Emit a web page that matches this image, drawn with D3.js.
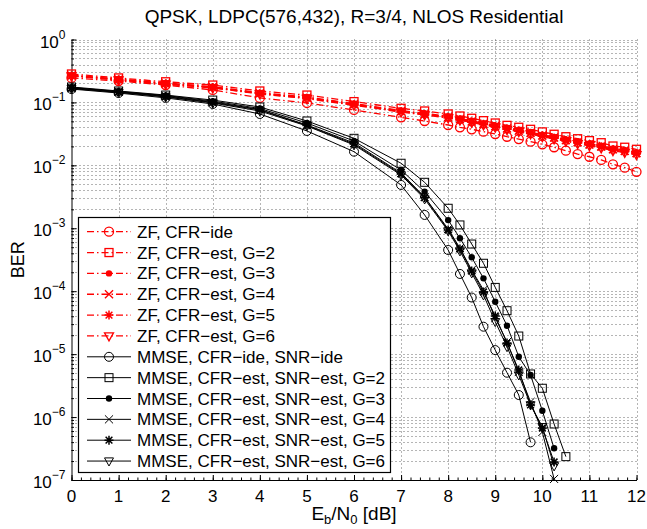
<!DOCTYPE html>
<html>
<head>
<meta charset="utf-8">
<script src="https://cdn.jsdelivr.net/npm/d3@7"></script>
<style>
  body { margin: 0; background: #fff; }
  svg text { font-family: "Liberation Sans", Arial, Helvetica, sans-serif; }
</style>
</head>
<body>
<script>
// ---- data ----
const xZF = [0, 1, 2, 3, 4, 5, 6, 7, 7.5, 8, 8.25, 8.5, 8.75, 9, 9.25, 9.5, 9.75, 10, 10.25, 10.5, 10.75, 11, 11.25, 11.5, 11.75, 12];

const zfIde = [0.245, 0.219, 0.189, 0.158, 0.118, 0.098, 0.0759, 0.0580, 0.0507, 0.0438, 0.0402, 0.0374, 0.0343, 0.0315, 0.0285, 0.0262, 0.0238, 0.0216, 0.0194, 0.0171, 0.0151, 0.0137, 0.0122, 0.0104, 0.0092, 0.0079];
const zfG2 = [0.283, 0.245, 0.213, 0.189, 0.152, 0.131, 0.103, 0.0807, 0.0731, 0.0655, 0.0609, 0.0560, 0.0513, 0.0471, 0.0432, 0.0403, 0.0374, 0.0340, 0.0312, 0.0285, 0.0265, 0.0247, 0.0229, 0.0203, 0.0194, 0.0180];
const zfG3 = [0.272, 0.236, 0.204, 0.178, 0.143, 0.122, 0.096, 0.0745, 0.0672, 0.0601, 0.0556, 0.0512, 0.0468, 0.0430, 0.0396, 0.0366, 0.0338, 0.0306, 0.0284, 0.0259, 0.0240, 0.0222, 0.0206, 0.0186, 0.0175, 0.0162];
const zfG4 = [0.268, 0.232, 0.200, 0.175, 0.140, 0.119, 0.094, 0.0728, 0.0656, 0.0588, 0.0543, 0.0500, 0.0458, 0.0421, 0.0386, 0.0357, 0.0330, 0.0298, 0.0277, 0.0252, 0.0233, 0.0216, 0.0200, 0.0181, 0.0170, 0.0157];
const zfG5 = [0.265, 0.229, 0.198, 0.172, 0.138, 0.117, 0.092, 0.0716, 0.0644, 0.0577, 0.0533, 0.0490, 0.0449, 0.0412, 0.0378, 0.0349, 0.0322, 0.0291, 0.0270, 0.0246, 0.0227, 0.0210, 0.0195, 0.0176, 0.0165, 0.0152];
const zfG6 = [0.262, 0.226, 0.195, 0.170, 0.136, 0.115, 0.090, 0.0702, 0.0632, 0.0566, 0.0522, 0.0480, 0.0440, 0.0403, 0.0370, 0.0341, 0.0315, 0.0284, 0.0263, 0.0240, 0.0221, 0.0205, 0.0189, 0.0171, 0.0160, 0.0147];

const xMMSE = [0, 1, 2, 3, 4, 5, 6, 7, 7.5, 8, 8.25, 8.5, 8.75, 9, 9.25, 9.5, 9.75, 10, 10.25, 10.5];

const mmseIde = [0.163, 0.141, 0.118, 0.0944, 0.0655, 0.0352, 0.0165, 0.00488, 0.00163, 4.52e-4, 1.88e-4, 7.94e-5, 2.73e-5, 1.16e-5, 5.07e-6, 2.24e-6, 3.97e-7];
const mmseG2 = [0.176, 0.152, 0.131, 0.109, 0.0846, 0.0507, 0.0269, 0.0108, 0.00538, 0.00208, 0.00113, 5.62e-4, 2.78e-4, 1.15e-4, 4.90e-5, 1.94e-5, 4.84e-6, 2.87e-6, 7.76e-7, 2.35e-7];
const mmseG3 = [0.173, 0.149, 0.129, 0.105, 0.0801, 0.0471, 0.0244, 0.00844, 0.00381, 0.00135, 6.93e-4, 3.46e-4, 1.60e-4, 6.81e-5, 2.83e-5, 9.10e-6, 4.66e-6, 1.26e-6, 3.19e-7];
const mmseG4 = [0.170, 0.147, 0.127, 0.102, 0.0772, 0.0438, 0.0227, 0.00756, 0.00314, 9.75e-4, 4.86e-4, 2.17e-4, 1.05e-4, 3.75e-5, 1.56e-5, 5.20e-6, 1.74e-6, 5.79e-7, 1.04e-7];
const mmseG5 = [0.170, 0.147, 0.124, 0.0998, 0.0759, 0.0430, 0.0218, 0.00729, 0.00308, 9.39e-4, 4.69e-4, 2.09e-4, 9.72e-5, 4.04e-5, 1.50e-5, 5.60e-6, 1.56e-6, 6.70e-7, 1.93e-7];
const mmseG6 = [0.166, 0.144, 0.122, 0.098, 0.0731, 0.0422, 0.0211, 0.00703, 0.00292, 9.06e-4, 4.36e-4, 1.95e-4, 8.71e-5, 3.28e-5, 1.31e-5, 4.66e-6, 1.56e-6, 7.03e-7, 1.67e-7];

const legendLabels = [
  "ZF, CFR\u2212ide", "ZF, CFR\u2212est, G=2", "ZF, CFR\u2212est, G=3",
  "ZF, CFR\u2212est, G=4", "ZF, CFR\u2212est, G=5", "ZF, CFR\u2212est, G=6",
  "MMSE, CFR\u2212ide, SNR\u2212ide", "MMSE, CFR\u2212est, SNR\u2212est, G=2",
  "MMSE, CFR\u2212est, SNR\u2212est, G=3", "MMSE, CFR\u2212est, SNR\u2212est, G=4",
  "MMSE, CFR\u2212est, SNR\u2212est, G=5", "MMSE, CFR\u2212est, SNR\u2212est, G=6"
];
const markers = ["circle", "square", "dot", "x", "star", "tri"];
const xTicks = [0, 1, 2, 3, 4, 5, 6, 7, 8, 9, 10, 11, 12];
const yExponents = [0, -1, -2, -3, -4, -5, -6, -7];

const series = [
  {x: xZF, y: zfIde}, {x: xZF, y: zfG2}, {x: xZF, y: zfG3},
  {x: xZF, y: zfG4}, {x: xZF, y: zfG5}, {x: xZF, y: zfG6},
  {x: xMMSE, y: mmseIde}, {x: xMMSE, y: mmseG2}, {x: xMMSE, y: mmseG3},
  {x: xMMSE, y: mmseG4}, {x: xMMSE, y: mmseG5}, {x: xMMSE, y: mmseG6}
].map((s, i) => ({
  label: legendLabels[i],
  marker: markers[i % 6],
  zf: i < 6,
  points: s.y.map((v, j) => ({x: s.x[j], y: v}))
}));

// ---- layout ----
const width = 647, height = 529;
const margin = {left: 71.5, right: 10.5, top: 39.5, bottom: 49};

const x = d3.scaleLinear().domain([0, 12]).range([margin.left, width - margin.right]);
const y = d3.scaleLog().domain([1e-7, 1]).range([height - margin.bottom, margin.top]);

const svg = d3.select("body").append("svg")
  .attr("width", width)
  .attr("height", height);

// grid
const minorY = [];
yExponents.forEach(e => {
  if (e === 0) return;
  for (let k = 1; k <= 9; k++) minorY.push(k * Math.pow(10, e));
});
minorY.push(1);

svg.append("g").selectAll("line")
  .data(minorY)
  .join("line")
    .attr("x1", x(0)).attr("x2", x(12))
    .attr("y1", d => Math.round(y(d)) + 0.5).attr("y2", d => Math.round(y(d)) + 0.5)
    .attr("stroke", "#444")
    .attr("stroke-width", 0.8)
    .attr("stroke-dasharray", "1 3");

svg.append("g").selectAll("line")
  .data(xTicks.slice(1))
  .join("line")
    .attr("x1", d => Math.round(x(d)) + 0.5).attr("x2", d => Math.round(x(d)) + 0.5)
    .attr("y1", y(1)).attr("y2", y(1e-7))
    .attr("stroke", "#444")
    .attr("stroke-width", 0.8)
    .attr("stroke-dasharray", "1 3");

// axes (ticks inward, no box)
svg.append("g")
  .attr("transform", `translate(0,${y(1e-7)})`)
  .call(d3.axisBottom(x).tickValues(xTicks).tickSize(-5).tickFormat("").tickSizeOuter(0));
svg.append("g")
  .attr("transform", `translate(0,${y(1e-7)})`)
  .call(d3.axisBottom(x).tickValues(d3.range(0, 12.01, 0.2)).tickSize(-2.5).tickFormat("").tickSizeOuter(0))
  .select(".domain").remove();

svg.append("g")
  .attr("transform", `translate(${x(0)},0)`)
  .call(d3.axisLeft(y).tickValues(yExponents.map(e => Math.pow(10, e))).tickSize(-5).tickFormat("").tickSizeOuter(0));
svg.append("g")
  .attr("transform", `translate(${x(0)},0)`)
  .call(d3.axisLeft(y).tickValues(minorY).tickSize(-2.5).tickFormat("").tickSizeOuter(0))
  .select(".domain").remove();

svg.selectAll(".domain, .tick line").attr("stroke", "#000");

// tick labels
svg.append("g").selectAll("text")
  .data(xTicks)
  .join("text")
    .attr("x", d => x(d))
    .attr("y", y(1e-7) + 22)
    .attr("text-anchor", "middle")
    .attr("font-size", 17)
    .text(d => d);

const yl = svg.append("g").selectAll("text")
  .data(yExponents)
  .join("text")
    .attr("x", x(0) - 6)
    .attr("y", d => y(Math.pow(10, d)) + 8)
    .attr("text-anchor", "end")
    .attr("font-size", 17);
yl.append("tspan").text("10");
yl.append("tspan").attr("dy", -9).attr("font-size", 12).text(d => d === 0 ? "0" : "\u2212" + (-d));

// titles
svg.append("text")
  .attr("x", (x(0) + x(12)) / 2)
  .attr("y", 23)
  .attr("text-anchor", "middle")
  .attr("font-size", 19)
  .text("QPSK, LDPC(576,432), R=3/4, NLOS Residential");

const xl = svg.append("text")
  .attr("x", (x(0) + x(12)) / 2)
  .attr("y", 520)
  .attr("text-anchor", "middle")
  .attr("font-size", 19);
xl.append("tspan").text("E");
xl.append("tspan").attr("dy", 4).attr("font-size", 13).text("b");
xl.append("tspan").attr("dy", -4).text("/N");
xl.append("tspan").attr("dy", 4).attr("font-size", 13).text("0");
xl.append("tspan").attr("dy", -4).text(" [dB]");

svg.append("text")
  .attr("transform", `translate(24,${(y(1) + y(1e-7)) / 2}) rotate(-90)`)
  .attr("text-anchor", "middle")
  .attr("font-size", 18)
  .text("BER");

// markers
function drawMarker(g, type, cx, cy, color, sw) {
  const s = 4.5;
  if (type === "circle") {
    g.append("circle").attr("cx", cx).attr("cy", cy).attr("r", s)
      .attr("fill", "none").attr("stroke", color).attr("stroke-width", sw);
  } else if (type === "square") {
    g.append("rect").attr("x", cx - s + 0.5).attr("y", cy - s + 0.5).attr("width", 2 * s - 1).attr("height", 2 * s - 1)
      .attr("fill", "none").attr("stroke", color).attr("stroke-width", sw);
  } else if (type === "dot") {
    g.append("circle").attr("cx", cx).attr("cy", cy).attr("r", 3.2)
      .attr("fill", color).attr("stroke", "none");
  } else if (type === "x") {
    const d = s * 0.9;
    g.append("path").attr("d", `M${cx - d},${cy - d}L${cx + d},${cy + d}M${cx - d},${cy + d}L${cx + d},${cy - d}`)
      .attr("stroke", color).attr("stroke-width", sw).attr("fill", "none");
  } else if (type === "star") {
    const d = s * 0.75;
    g.append("path").attr("d", `M${cx - s},${cy}L${cx + s},${cy}M${cx},${cy - s}L${cx},${cy + s}M${cx - d},${cy - d}L${cx + d},${cy + d}M${cx - d},${cy + d}L${cx + d},${cy - d}`)
      .attr("stroke", color).attr("stroke-width", 1.5).attr("fill", "none");
  } else if (type === "tri") {
    g.append("path").attr("d", `M${cx - s},${cy - s * 0.7}L${cx + s},${cy - s * 0.7}L${cx},${cy + s * 1.1}Z`)
      .attr("stroke", color).attr("stroke-width", sw).attr("fill", "none");
  }
}

const line = d3.line().x(d => x(d.x)).y(d => y(d.y));
const dashZF = "7 3 1.5 3";

const plot = svg.append("g");
series.forEach(s => {
  const color = s.zf ? "#ff0000" : "#000";
  const sw = s.zf ? 1.3 : 1;
  const g = plot.append("g");
  g.append("path")
    .datum(s.points)
    .attr("d", line)
    .attr("fill", "none")
    .attr("stroke", color)
    .attr("stroke-width", sw)
    .attr("stroke-dasharray", s.zf ? dashZF : null);
  s.points.forEach(p => drawMarker(g, s.marker, x(p.x), y(p.y), color, sw));
});

// legend
const lg = svg.append("g");
lg.append("rect")
  .attr("x", 78.5).attr("y", 217.5)
  .attr("width", 312).attr("height", 255)
  .attr("fill", "#fff").attr("stroke", "#000").attr("stroke-width", 1.2);

series.forEach((s, i) => {
  const color = s.zf ? "#ff0000" : "#000";
  const sw = s.zf ? 1.3 : 1;
  const cy = 231.7 + i * 20.85;
  lg.append("line")
    .attr("x1", 87).attr("x2", 131)
    .attr("y1", cy).attr("y2", cy)
    .attr("stroke", color)
    .attr("stroke-width", sw)
    .attr("stroke-dasharray", s.zf ? dashZF : null);
  drawMarker(lg, s.marker, 109, cy, color, sw);
  lg.append("text")
    .attr("x", 137)
    .attr("y", cy + 6)
    .attr("font-size", 17)
    .text(s.label);
});
</script>
</body>
</html>
